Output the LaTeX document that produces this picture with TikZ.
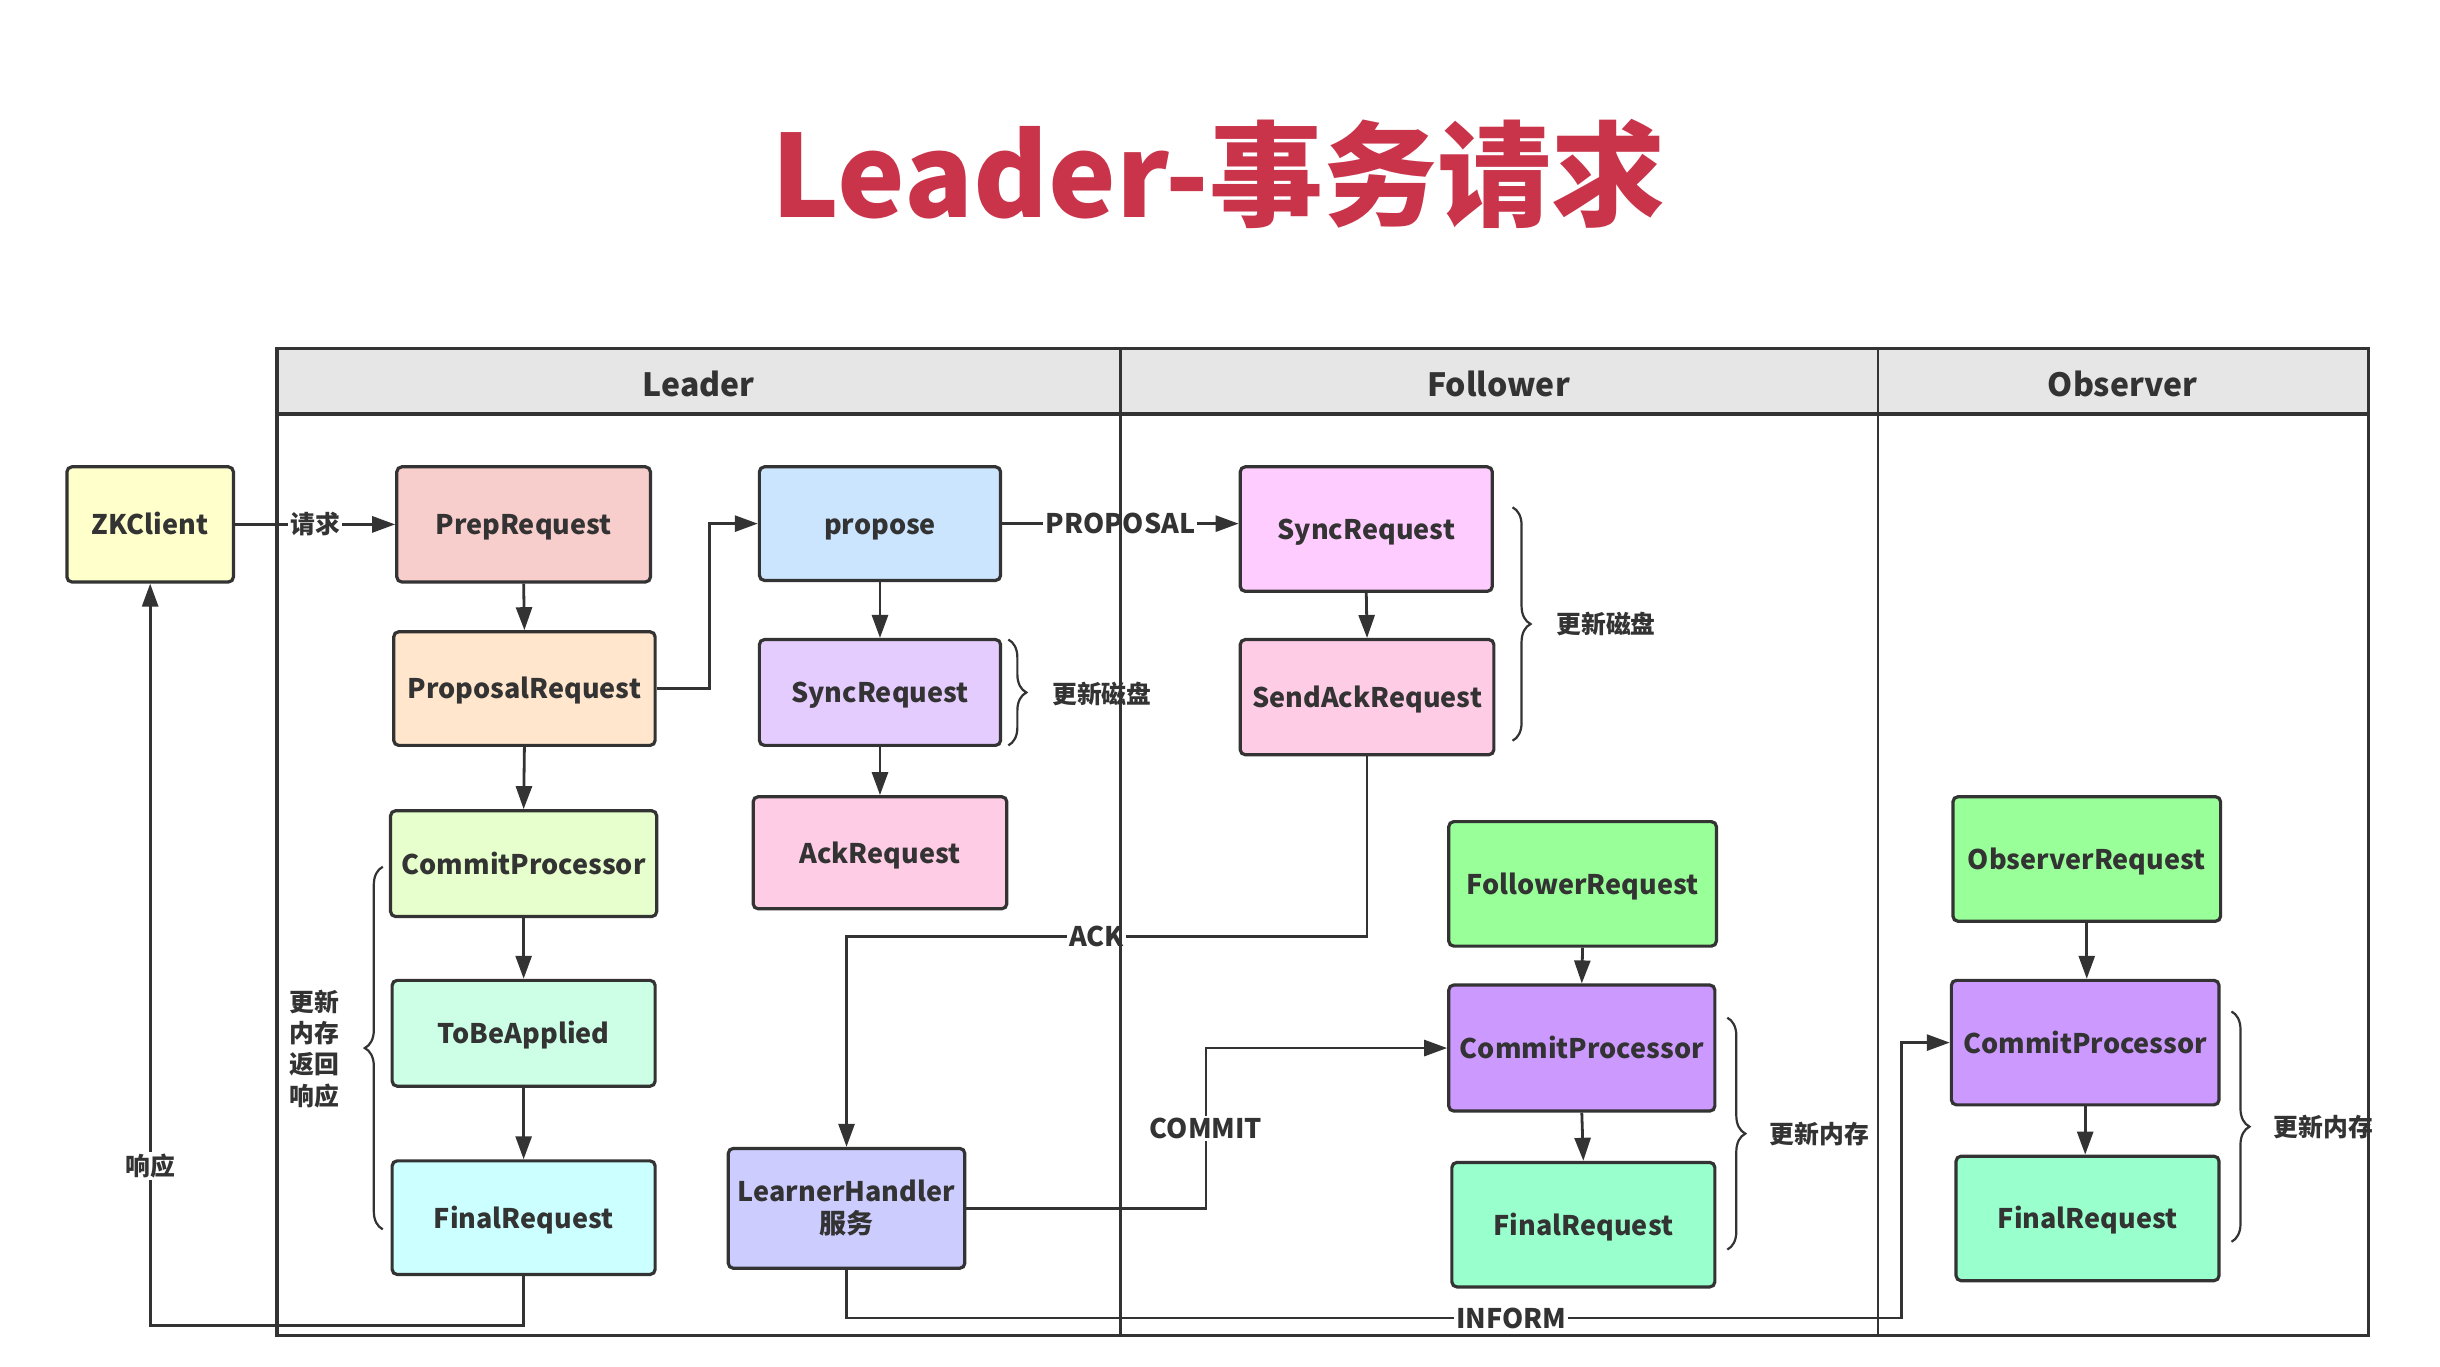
\documentclass[tikz,border=0pt]{standalone}
\usepackage{fontspec}
\setmainfont{Noto Sans CJK SC}
\usetikzlibrary{arrows.meta,decorations.pathreplacing}
\definecolor{lineC}{HTML}{333333}
\definecolor{txtC}{HTML}{333333}
\definecolor{titleC}{HTML}{C9344B}
\definecolor{headC}{HTML}{E6E6E6}
\definecolor{cZk}{HTML}{FFFFCC}
\definecolor{cPrep}{HTML}{F8CECC}
\definecolor{cPropose}{HTML}{CCE5FF}
\definecolor{cFsync}{HTML}{FFCCFF}
\definecolor{cProposal}{HTML}{FFE6CC}
\definecolor{cLsync}{HTML}{E5CCFF}
\definecolor{cPinkAck}{HTML}{FFCCE6}
\definecolor{cLcommit}{HTML}{E6FFCC}
\definecolor{cGreen}{HTML}{99FF99}
\definecolor{cTobe}{HTML}{CCFFE6}
\definecolor{cPurple}{HTML}{CC99FF}
\definecolor{cLfinal}{HTML}{CCFFFF}
\definecolor{cLearner}{HTML}{CCCCFF}
\definecolor{cFinalG}{HTML}{99FFCC}
\begin{document}
\begin{tikzpicture}[x=0.778pt,y=-0.778pt,
  box/.style n args={3}{draw=lineC, line width=1.6pt, rounded corners=2.5pt, fill=#1,
    minimum width=#2*0.778pt, minimum height=#3*0.778pt, inner sep=0pt,
    font=\fontsize{13.5}{16}\selectfont\bfseries, text=txtC, align=center,
    text height=11.4pt, text depth=1pt},
  arr/.style={draw=lineC, line width=1.4pt, -{Triangle[length=11.5pt,width=8pt]}},
  lbl/.style={fill=white, inner sep=1pt, font=\fontsize{13.5}{16}\selectfont\bfseries, text=txtC},
  cnlbl/.style={inner sep=0pt, font=\fontsize{12.4}{15.6}\selectfont\bfseries, text=txtC},
  brc/.style={draw=lineC, line width=1.1pt, decorate, decoration={brace, amplitude=9pt}},
  lanehead/.style={font=\fontsize{16}{19}\selectfont\bfseries, text=txtC}
]
\useasboundingbox (0,0) rectangle (1568,878);
\fill[white] (0,0) rectangle (1568,878);

% title
\node[font=\fontsize{57}{68}\selectfont\bfseries, text=titleC] (title) at (783,112) {Leader-事务请求};

% lane header fill
\fill[headC] (178,224) rectangle (1522,266);
\node[lanehead] (hLeader) at (449,246.5) {Leader};
\node[lanehead] (hFollower) at (963,246.5) {Follower};
\node[lanehead] (hObserver) at (1364,246.5) {Observer};

% nodes
\node[box={cZk}{107}{74}] (zk) at (96.5,337) {ZKClient};
\node[box={cPrep}{163}{74}] (prep) at (336.5,337) {PrepRequest};
\node[box={cPropose}{155}{73}] (propose) at (565.5,336.5) {propose};
\node[box={cFsync}{162}{80}] (fsync) at (878,340) {SyncRequest};
\node[box={cProposal}{168}{73}] (proposal) at (337,442.5) {ProposalRequest};
\node[box={cLsync}{155}{68}] (lsync) at (565.5,445) {SyncRequest};
\node[box={cPinkAck}{163}{74}] (sendack) at (878.5,448) {SendAckRequest};
\node[box={cLcommit}{171}{68}] (lcommit) at (336.5,555) {CommitProcessor};
\node[box={cPinkAck}{163}{72}] (ack) at (565.5,548) {AckRequest};
\node[box={cGreen}{172}{80}] (freq) at (1017,568) {FollowerRequest};
\node[box={cGreen}{172}{80}] (oreq) at (1341,552) {ObserverRequest};
\node[box={cTobe}{169}{68}] (tobe) at (336.5,664) {ToBeApplied};
\node[box={cPurple}{171}{81}] (fcommit) at (1016.5,673.5) {CommitProcessor};
\node[box={cPurple}{172}{80}] (ocommit) at (1340,670) {CommitProcessor};
\node[box={cLfinal}{169}{73}] (lfinal) at (336.5,782.5) {FinalRequest};
\node[box={cLearner}{152}{77}, text height=, text depth=] (learner) at (544,776.5) {LearnerHandler\\服务};
\node[box={cFinalG}{169}{80}] (ffinal) at (1017.5,787) {FinalRequest};
\node[box={cFinalG}{169}{80}] (ofinal) at (1341.5,783) {FinalRequest};

% connectors
\draw[arr] (zk.east) -- node[lbl, font=\fontsize{12.4}{15}\selectfont\bfseries] (lQiu) {请求} (prep.west);
\draw[arr] (prep.south) -- (proposal.north);
\draw[arr] (proposal.east) -- ++(34,0) |- (propose.west);
\draw[arr] (propose.east) -- node[lbl] (lProp) {PROPOSAL} (propose.east -| fsync.west);
\draw[arr] (propose.south) -- (lsync.north);
\draw[arr] (lsync.south) -- (ack.north);
\draw[arr] (proposal.south) -- (lcommit.north);
\draw[arr] (lcommit.south) -- (tobe.north);
\draw[arr] (tobe.south) -- (lfinal.north);
\draw[arr] (fsync.south) -- (sendack.north);
\draw[arr] (freq.south) -- (fcommit.north);
\draw[arr] (fcommit.south) -- (ffinal.north);
\draw[arr] (oreq.south) -- (oreq.south |- ocommit.north);
\draw[arr] (ocommit.south) -- (ocommit.south |- ofinal.north);

\coordinate (respRow) at (0,852);
\draw[arr] (lfinal.south) -- (lfinal.south |- respRow) -- (zk.south |- respRow) -- node[lbl, pos=0.215, font=\fontsize{12.4}{15}\selectfont\bfseries] (lResp) {响应} (zk.south);

\coordinate (ackRow) at (0,602);
\draw[arr] (sendack.south) -- (sendack.south |- ackRow) -- node[lbl, pos=0.52] (lAck) {ACK} (learner.north |- ackRow) -- (learner.north);

\coordinate (commitCol) at (775,0);
\draw[arr] (learner.east) -- (learner.east -| commitCol) -- node[lbl] (lCommit) {COMMIT} (commitCol |- fcommit.west) -- (fcommit.west);

\coordinate (informRow) at (0,847);
\coordinate (informCol) at (1222,0);
\draw[arr] (learner.south) -- (learner.south |- informRow) -- node[lbl, pos=0.63] (lInform) {INFORM} (informCol |- informRow) -- (informCol |- ocommit.west) -- (ocommit.west);

% braces
\draw[brc] (648,411) -- (648,479);
\node[cnlbl, anchor=west] (bDisk1) at (676,446) {更新磁盘};
\draw[brc] (972,326) -- (972,476);
\node[cnlbl, anchor=west] (bDisk2) at (1000,401) {更新磁盘};
\draw[brc] (246,790) -- (246,557);
\node[cnlbl, align=center] (bMem1) at (202,674) {更新\\内存\\返回\\响应};
\draw[brc] (1110,654) -- (1110,803);
\node[cnlbl, anchor=west] (bMem2) at (1137,729) {更新内存};
\draw[brc] (1434,650) -- (1434,798);
\node[cnlbl, anchor=west] (bMem3) at (1461,724) {更新内存};

% lane lines
\draw[lineC, line width=1.6pt] (178,224) rectangle (1522,858);
\draw[lineC, line width=1.6pt] (178,266) -- (1522,266);
\draw[lineC, line width=1.1pt] (720,224) -- (720,858);
\draw[lineC, line width=1.1pt] (1207,224) -- (1207,858);
\end{tikzpicture}
\end{document}
